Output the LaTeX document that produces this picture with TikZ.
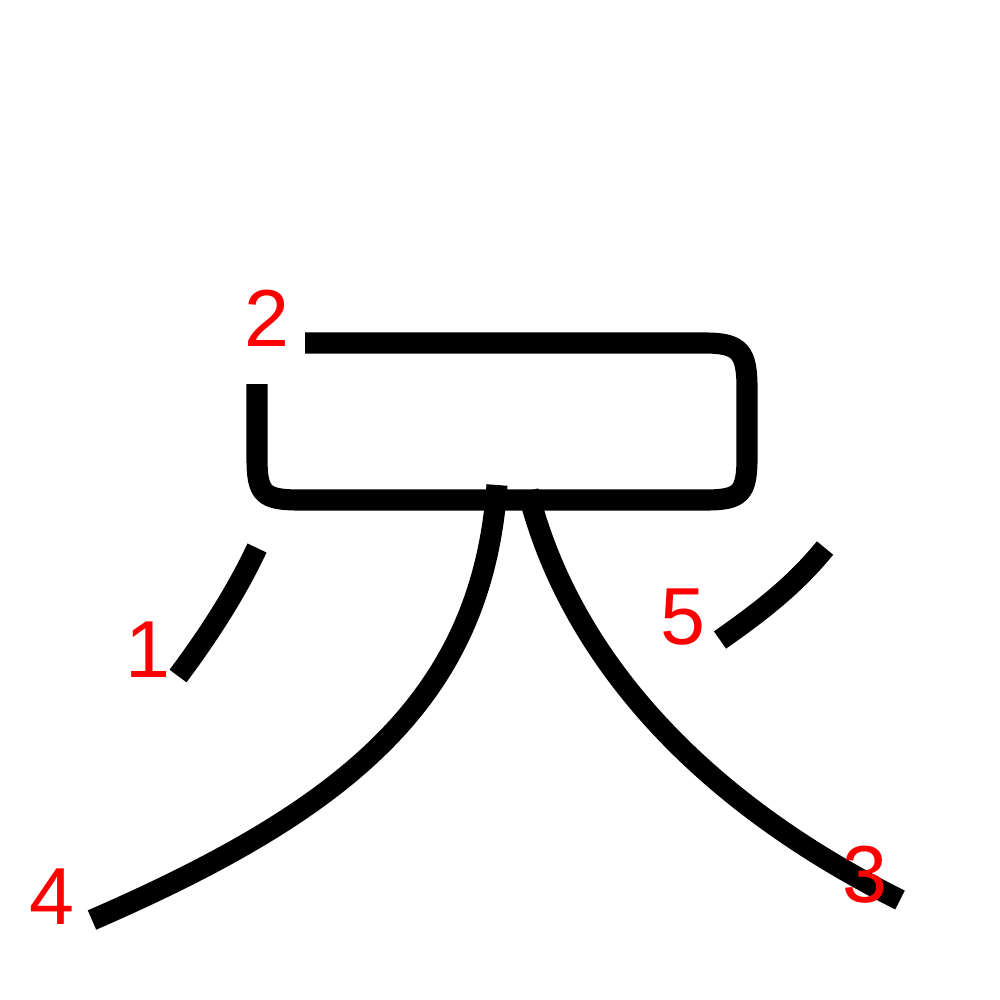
\documentclass[tikz,border=0pt]{standalone}
\usepackage{fontspec}
\setmainfont{Liberation Sans}
\usepackage{tikz}

\tikzset{
  kstroke/.style={line width=6pt,line cap=butt,line join=round},
  num/.style={text=red,font=\fontsize{23}{23}\selectfont,inner sep=0}
}

\begin{document}
\begin{tikzpicture}[x=0.01cm,y=-0.01cm]
  \useasboundingbox (0,0) rectangle (1000,1000);
  % strokes
  \draw [kstroke] (257,548) .. controls (235,595) and (205,640) .. (178,676);
  \draw [kstroke] (305,343) -- (705,343) .. controls (740,343) and (747,352) .. (747,388)
     -- (747,458) .. controls (747,494) and (740,500) .. (705,500)
     -- (300,500) .. controls (263,500) and (257,494) .. (257,458) -- (257,384);
  \draw [kstroke] (528,491) .. controls (565,640) and (680,790) .. (900,900);
  \draw [kstroke] (497,485) .. controls (482,700) and (345,810) .. (92,920);
  \draw [kstroke] (825,548) .. controls (795,585) and (760,612) .. (720,640);
  % numbers
  \node [num] (n1) at (148,650) {1};
  \node [num] (n2) at (267,318) {2};
  \node [num] (n3) at (865,875) {3};
  \node [num] (n4) at (52,897) {4};
  \node [num] (n5) at (683,617) {5};
\end{tikzpicture}
\end{document}
